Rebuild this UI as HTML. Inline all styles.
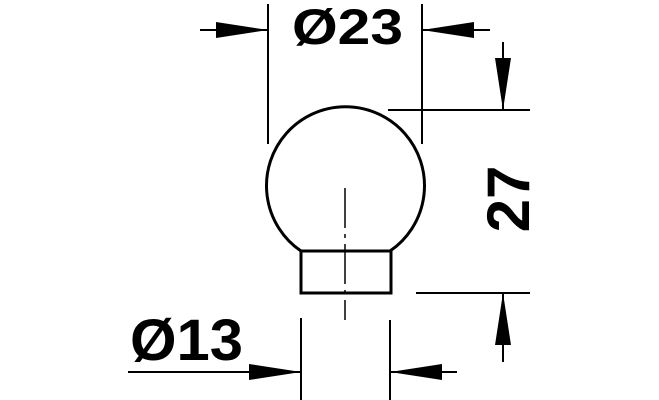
<!DOCTYPE html>
<html><head><style>html,body{margin:0;padding:0;background:#fff}</style></head><body>
<svg width="659" height="400" viewBox="0 0 659 400" xmlns="http://www.w3.org/2000/svg" style="display:block">
<g stroke="#000" fill="none" stroke-width="2">
<line x1="268" y1="4" x2="268" y2="144"/>
<line x1="422" y1="4" x2="422" y2="144"/>
<line x1="200" y1="30" x2="268" y2="30"/>
<line x1="422" y1="30" x2="490" y2="30"/>
<line x1="388" y1="110" x2="530" y2="110"/>
<line x1="416" y1="293" x2="530" y2="293"/>
<line x1="503" y1="42" x2="503" y2="110"/>
<line x1="503" y1="293" x2="503" y2="362"/>
<line x1="301" y1="318" x2="301" y2="400"/>
<line x1="390" y1="320" x2="390" y2="400"/>
<line x1="128" y1="372" x2="301" y2="372"/>
<line x1="390" y1="372" x2="457" y2="372"/>
</g>
<g fill="#000">
<polygon points="268,30 216,22 216,38"/>
<polygon points="422,30 474,22 474,38"/>
<polygon points="503,110 495,58 511,58"/>
<polygon points="503,293 495,345 511,345"/>
<polygon points="301,372 249,364 249,380"/>
<polygon points="390,372 442,364 442,380"/>
</g>
<g stroke="#000" fill="none" stroke-width="3">
<path d="M301,251 A79,79 0 1 1 390,251"/>
<rect x="301" y="251" width="90" height="42"/>
</g>
<line x1="345" y1="188" x2="345" y2="320" stroke="#000" stroke-width="1.5" stroke-dasharray="40,6,4,6"/>
<g font-family="Liberation Sans, sans-serif" font-weight="bold" fill="#000">
<text x="292" y="44" font-size="50" textLength="111" lengthAdjust="spacingAndGlyphs">Ø23</text>
<text x="130" y="360" font-size="58" textLength="113" lengthAdjust="spacingAndGlyphs">Ø13</text>
<text transform="translate(529,199) rotate(-90)" text-anchor="middle" font-size="60">27</text>
</g>
</svg>
</body></html>
